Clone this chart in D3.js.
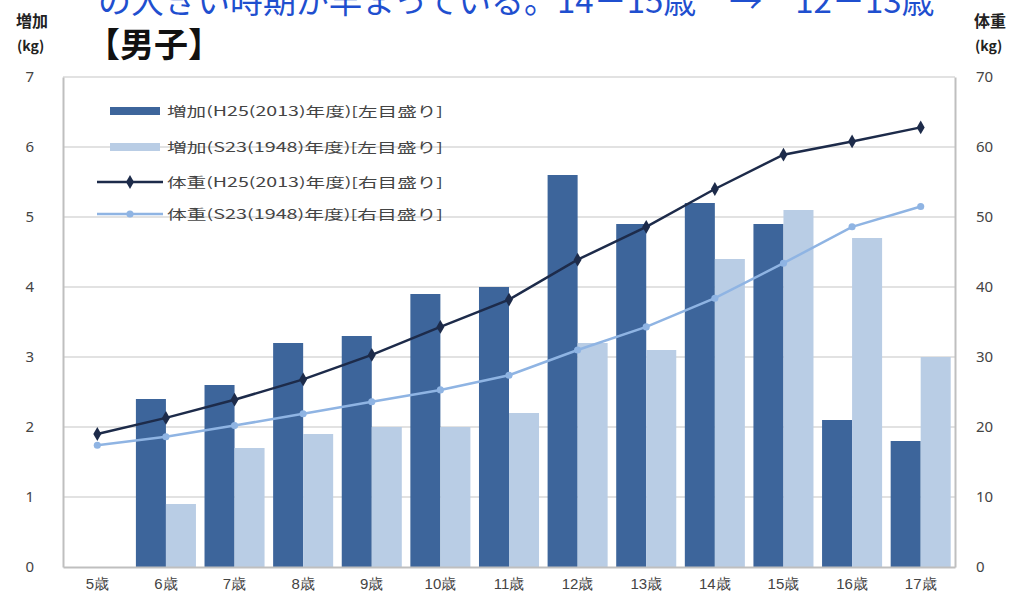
<!DOCTYPE html>
<html><head><meta charset="utf-8">
<script src="https://cdn.jsdelivr.net/npm/d3@7"></script>
<style>
html,body{margin:0;padding:0;background:#fff;}
svg{display:block;font-family:"Noto Sans CJK JP","Noto Sans",sans-serif;}
</style></head>
<body><svg id="c" width="1033" height="605"></svg>
<script>
const categories = ["5歳","6歳","7歳","8歳","9歳","10歳","11歳","12歳","13歳","14歳","15歳","16歳","17歳"];
const gainH25 = [null,2.4,2.6,3.2,3.3,3.9,4.0,5.6,4.9,5.2,4.9,2.1,1.8];
const gainS23 = [null,0.9,1.7,1.9,2.0,2.0,2.2,3.2,3.1,4.4,5.1,4.7,3.0];
const weightH25 = [19.0,21.3,23.9,26.8,30.3,34.3,38.2,43.9,48.6,54.0,58.9,60.8,62.8];
const weightS23 = [17.4,18.6,20.2,21.9,23.6,25.3,27.4,31.0,34.3,38.4,43.4,48.6,51.5];
const leftTicks = [0,1,2,3,4,5,6,7];
const rightTicks = [0,10,20,30,40,50,60,70];
const legendLabels = ["増加(H25(2013)年度)[左目盛り]","増加(S23(1948)年度)[左目盛り]","体重(H25(2013)年度)[右目盛り]","体重(S23(1948)年度)[右目盛り]"];
const titleText = "の大きい時期が早まっている。14－15歳　→　12－13歳";

const svg = d3.select("#c");
const L = 63, R = 955, T = 77, B = 567;
const cDark = "#3d659b", cLight = "#b9cde5", cLineDark = "#1d2b4a", cLineLight = "#8fb4e3";

const x0 = d3.scaleBand().domain(categories).range([L, R]).paddingInner(0.125).paddingOuter(0.0625);
const x1 = d3.scaleBand().domain(["h25","s23"]).range([0, x0.bandwidth()]);
const yL = d3.scaleLinear().domain([0,7]).range([B, T]);
const yR = d3.scaleLinear().domain([0,70]).range([B, T]);

// title (cut off at top, as in the reference)
svg.append("text").attr("x",98).attr("y",13).attr("font-size",33).attr("fill","#1f4fcf").text(titleText);
svg.append("text").attr("x",86).attr("y",57).attr("font-size",34).attr("font-weight","bold").attr("fill","#111").text("【男子】");
svg.append("text").attr("x",16).attr("y",27).attr("font-size",16).attr("font-weight","bold").attr("fill","#222").text("増加");
svg.append("text").attr("x",17).attr("y",51).attr("font-size",14).attr("font-weight","bold").attr("fill","#222").text("(kg)");
svg.append("text").attr("x",974).attr("y",27).attr("font-size",16).attr("font-weight","bold").attr("fill","#222").text("体重");
svg.append("text").attr("x",975).attr("y",51).attr("font-size",14).attr("font-weight","bold").attr("fill","#222").text("(kg)");

// gridlines
svg.append("g").selectAll("line").data(leftTicks.filter(d=>d>0)).join("line")
  .attr("x1",L).attr("x2",R).attr("y1",d=>yL(d)).attr("y2",d=>yL(d))
  .attr("stroke","#d9d9d9").attr("stroke-width",1.5);

// left axis
const axL = svg.append("g").attr("transform",`translate(${L},0)`)
  .call(d3.axisLeft(yL).tickValues(leftTicks).tickSize(0).tickPadding(29).tickFormat(d3.format("d")));
axL.select(".domain").attr("stroke","#bfbfbf").attr("stroke-width",2);
axL.selectAll("text").attr("font-size",15).attr("fill","#444").attr("font-family","Noto Sans, sans-serif");

// right axis
const axR = svg.append("g").attr("transform",`translate(${R},0)`)
  .call(d3.axisRight(yR).tickValues(rightTicks).tickSize(0).tickPadding(21).tickFormat(d3.format("d")));
axR.select(".domain").attr("stroke","#bfbfbf").attr("stroke-width",2);
axR.selectAll("text").attr("font-size",15).attr("fill","#444").attr("font-family","Noto Sans, sans-serif");

// bars
const rows = categories.map((c,i)=>({c, h:gainH25[i], s:gainS23[i]}));
const g = svg.append("g");
g.selectAll("rect.h").data(rows.filter(d=>d.h!=null)).join("rect").attr("class","h")
  .attr("x",d=>x0(d.c)+x1("h25")).attr("width",x1.bandwidth())
  .attr("y",d=>yL(d.h)).attr("height",d=>yL(0)-yL(d.h)).attr("fill",cDark);
g.selectAll("rect.s").data(rows.filter(d=>d.s!=null)).join("rect").attr("class","s")
  .attr("x",d=>x0(d.c)+x1("s23")).attr("width",x1.bandwidth())
  .attr("y",d=>yL(d.s)).attr("height",d=>yL(0)-yL(d.s)).attr("fill",cLight);

// bottom axis
const axB = svg.append("g").attr("transform",`translate(0,${B})`)
  .call(d3.axisBottom(x0).tickSize(0).tickPadding(11));
axB.select(".domain").attr("stroke","#bfbfbf").attr("stroke-width",2);
axB.selectAll("text").attr("font-size",15).attr("fill","#444");

// lines
const cx = c => x0(c) + x0.bandwidth()/2;
const line = d3.line().x(d=>cx(d.c)).y(d=>yR(d.v));
const sH = categories.map((c,i)=>({c, v:weightH25[i]}));
const sS = categories.map((c,i)=>({c, v:weightS23[i]}));
svg.append("path").datum(sS).attr("d",line).attr("fill","none").attr("stroke",cLineLight).attr("stroke-width",2.5);
svg.append("g").selectAll("path").data(sS).join("path")
  .attr("transform",d=>`translate(${cx(d.c)},${yR(d.v)})`)
  .attr("d",d3.symbol(d3.symbolCircle,40)).attr("fill",cLineLight);
svg.append("path").datum(sH).attr("d",line).attr("fill","none").attr("stroke",cLineDark).attr("stroke-width",2.5);
svg.append("g").selectAll("path").data(sH).join("path")
  .attr("transform",d=>`translate(${cx(d.c)},${yR(d.v)})`)
  .attr("d",d3.symbol(d3.symbolDiamond,55)).attr("fill",cLineDark);

// legend
const lg = svg.append("g");
const ly = [111,147,182,214];
legendLabels.forEach((t,i)=>{
  if (i<2) {
    lg.append("rect").attr("x",110).attr("y",ly[i]-4).attr("width",50).attr("height",8).attr("fill",i==0?cDark:cLight);
  } else {
    lg.append("line").attr("x1",97).attr("x2",163).attr("y1",ly[i]).attr("y2",ly[i])
      .attr("stroke",i==2?cLineDark:cLineLight).attr("stroke-width",2.5);
    lg.append("path").attr("transform",`translate(130,${ly[i]})`)
      .attr("d",d3.symbol(i==2?d3.symbolDiamond:d3.symbolCircle,i==2?55:40)).attr("fill",i==2?cLineDark:cLineLight);
  }
  lg.append("text").attr("x",167).attr("y",ly[i]+5).attr("font-size",13).attr("fill","#444")
    .attr("textLength",276).attr("lengthAdjust","spacingAndGlyphs").text(t);
});
</script></body></html>
